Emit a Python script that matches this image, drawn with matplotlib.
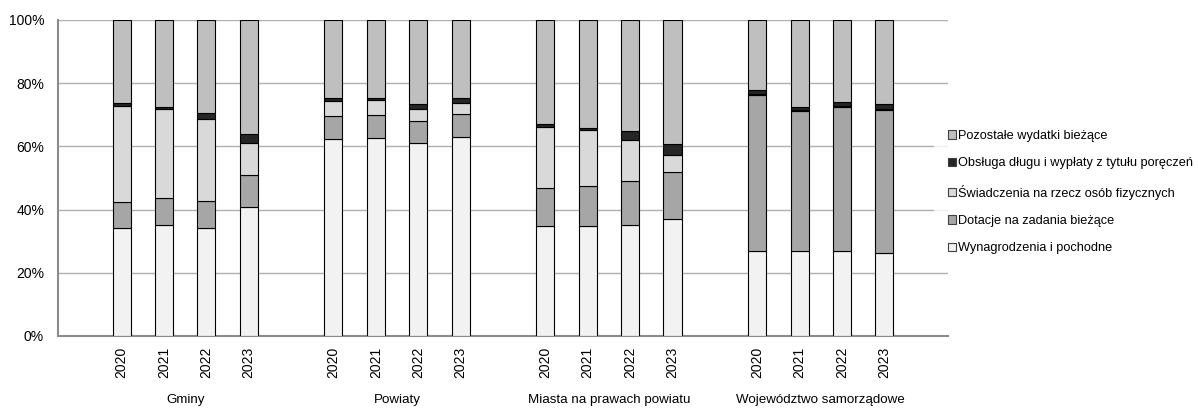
import matplotlib
matplotlib.use("Agg")
import matplotlib.pyplot as plt
from matplotlib.patches import Patch

plt.rcParams['font.family'] = ['Liberation Sans', 'DejaVu Sans']

groups = ['Gminy', 'Powiaty', 'Miasta na prawach powiatu', 'Województwo samorządowe']
years = ['2020', '2021', '2022', '2023']

# shares in % per bar: Gminy x4, Powiaty x4, Miasta x4, Województwo x4
wynagrodzenia = [34.3, 35.1, 34.3, 40.7, 62.2, 62.5, 61.0, 63.0, 34.7, 34.9, 35.1, 37.1, 26.9, 26.9, 27.0, 26.3]
dotacje = [8.0, 8.5, 8.5, 10.3, 7.3, 7.5, 7.1, 7.3, 12.2, 12.7, 13.9, 14.9, 49.3, 44.2, 45.4, 45.1]
swiadczenia = [30.5, 28.1, 25.9, 10.2, 4.8, 4.7, 3.8, 3.5, 19.1, 17.5, 13.0, 5.2, 0.3, 0.3, 0.5, 0.4]
obsluga = [0.8, 0.8, 1.8, 2.7, 0.9, 0.6, 1.4, 1.6, 1.0, 0.8, 3.0, 3.7, 1.4, 1.0, 1.2, 1.5]
pozostale = [26.4, 27.5, 29.5, 36.1, 24.8, 24.7, 26.7, 24.6, 33.0, 34.1, 35.0, 39.1, 22.1, 27.6, 25.9, 26.7]

series = [
    ('Wynagrodzenia i pochodne', wynagrodzenia, '#f2f2f2'),
    ('Dotacje na zadania bieżące', dotacje, '#a6a6a6'),
    ('Świadczenia na rzecz osób fizycznych', swiadczenia, '#d9d9d9'),
    ('Obsługa długu i wypłaty z tytułu poręczeń', obsluga, '#262626'),
    ('Pozostałe wydatki bieżące', pozostale, '#bfbfbf'),
]

# one empty slot between groups
pos = [g * 5 + i for g in range(len(groups)) for i in range(len(years))]
labels = years * len(groups)

fig = plt.figure(figsize=(11.98, 4.08), dpi=100)
ax = fig.add_axes([0.0484, 0.1765, 0.7429, 0.7745])

bottom = [0.0] * len(pos)
for name, vals, col in series:
    ax.bar(pos, vals, width=0.425, bottom=bottom, color=col, edgecolor='black',
           linewidth=0.8, zorder=3)
    bottom = [b + v for b, v in zip(bottom, vals)]

ax.set_xlim(-1.5, 19.5)
ax.set_ylim(0, 100)
ax.set_yticks([0, 20, 40, 60, 80, 100])
ax.set_yticklabels(['0%', '20%', '40%', '60%', '80%', '100%'], fontsize=10)
ax.set_xticks(pos)
ax.set_xticklabels(labels, rotation=90, fontsize=10)
ax.tick_params(axis='x', length=0, pad=8)
ax.tick_params(axis='y', length=0, pad=10)
ax.yaxis.grid(True, color='#b0b0b0', linewidth=1, zorder=0)
ax.set_axisbelow(True)
for s in ['top', 'right']:
    ax.spines[s].set_visible(False)
for s in ['left', 'bottom']:
    ax.spines[s].set_color('#8c8c8c')
    ax.spines[s].set_linewidth(1.5)

for g, name in enumerate(groups):
    ax.text(g * 5 + 1.5, -0.2025, name, transform=ax.get_xaxis_transform(),
            ha='center', va='center', fontsize=9.6)

handles = [Patch(facecolor=col, edgecolor='#404040', linewidth=0.8, label=name)
           for name, vals, col in series][::-1]
leg = fig.legend(handles=handles, loc='upper left', bbox_to_anchor=(0.780, 0.716),
                 borderaxespad=0, frameon=True, fontsize=9.2, handlelength=0.62,
                 handleheight=0.62, handletextpad=0.15, labelspacing=1.2, borderpad=1.1)
leg.get_frame().set_facecolor('white')
leg.get_frame().set_edgecolor('none')
leg.get_frame().set_boxstyle('square', pad=0)

fig.savefig('out.png', dpi=100)
